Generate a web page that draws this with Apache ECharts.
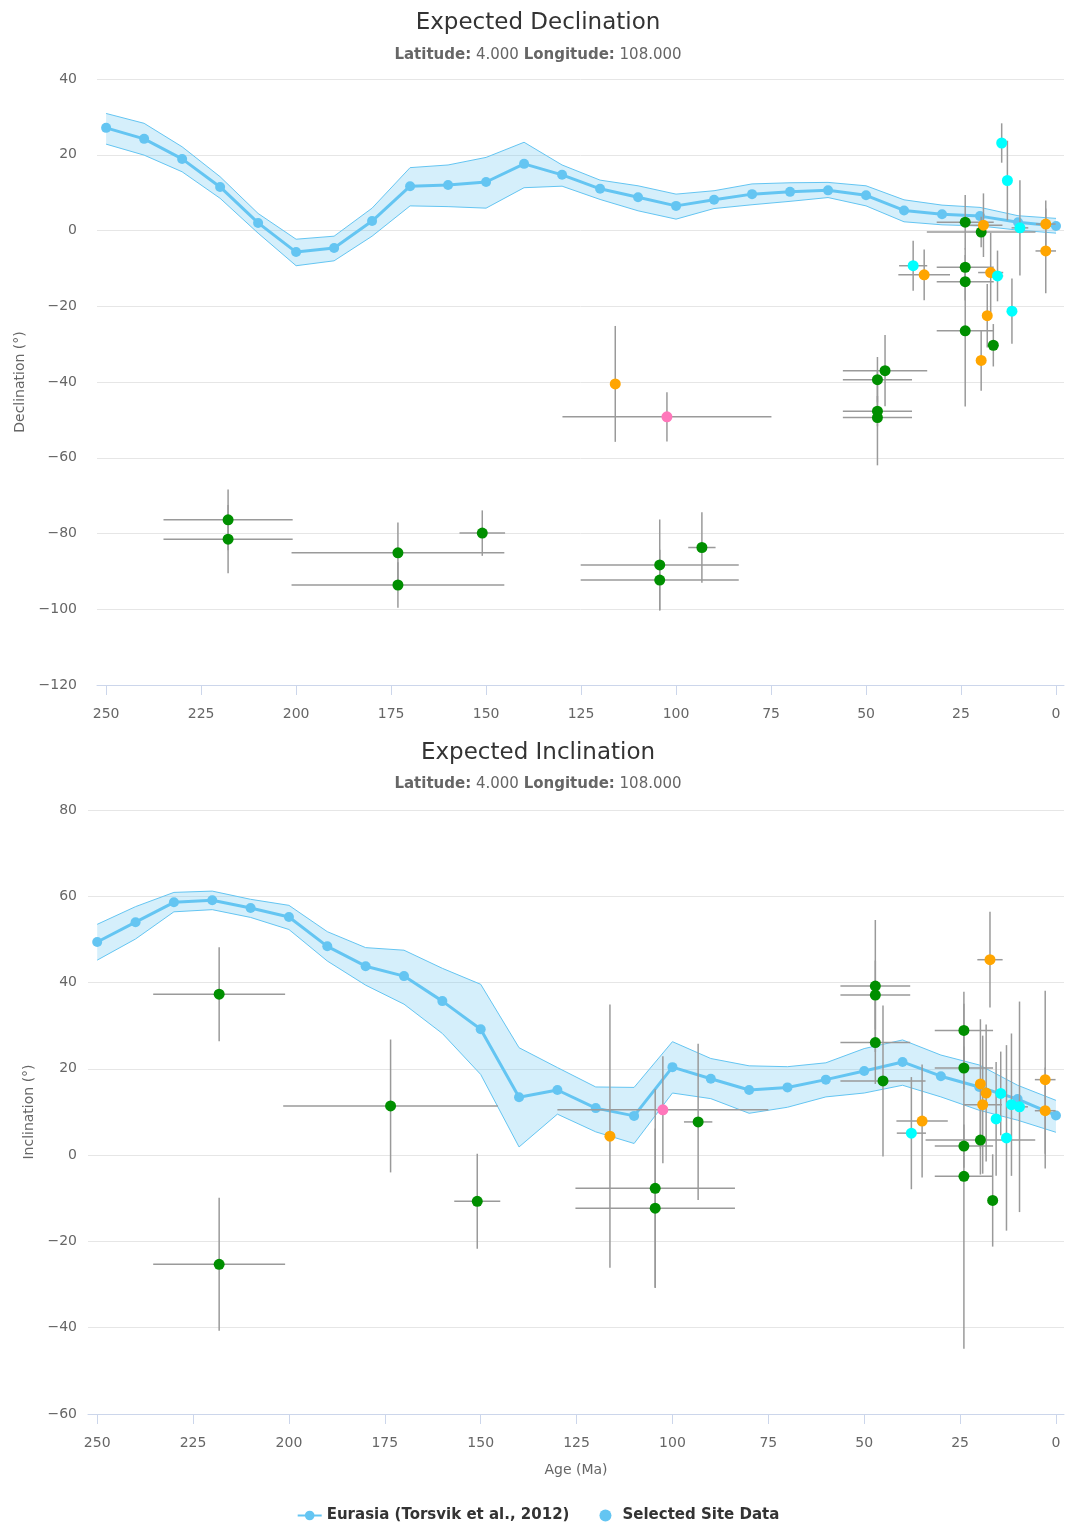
<!DOCTYPE html>
<html>
<head>
<meta charset="utf-8">
<script src="https://cdn.jsdelivr.net/npm/echarts@6/dist/echarts.min.js"></script>
<style>
html,body{margin:0;padding:0;background:#fff;}
#chart{width:1076px;height:1524px;}
</style>
</head>
<body>
<div id="chart"></div>
<script>
// ---------- Reference curve: Eurasia (Torsvik et al., 2012) ----------
const refAges  = [0,10,20,30,40,50,60,70,80,90,100,110,120,130,140,150,160,170,180,190,200,210,220,230,240,250];
const decMean  = [1.2,2.2,3.8,4.3,5.3,9.3,10.6,10.2,9.6,8.1,6.5,8.8,11.0,14.7,17.6,12.8,12.0,11.7,2.5,-4.6,-5.7,2.0,11.5,18.9,24.2,27.1];
const decUpper = [3.2,3.9,6.1,6.7,8.1,11.8,12.7,12.6,12.3,10.5,9.6,11.8,13.3,17.3,23.3,19.3,17.3,16.6,5.9,-1.5,-2.3,4.5,14.2,22.1,28.3,30.9];
const decLower = [-0.7,0.1,1.2,1.5,2.3,6.5,8.7,7.7,6.8,5.8,3.0,5.2,8.2,11.7,11.3,5.9,6.3,6.5,-1.5,-8.0,-9.3,-0.7,8.5,15.5,19.9,22.8];
const incMean  = [9.2,13.0,15.8,18.3,21.6,19.5,17.5,15.7,15.1,17.7,20.4,9.1,10.9,15.1,13.4,29.2,35.7,41.5,43.8,48.4,55.2,57.3,59.1,58.6,54.0,49.4];
const incUpper = [12.7,16.2,20.9,23.2,26.7,24.7,21.4,20.5,20.7,22.4,26.3,15.7,15.8,20.3,24.9,39.6,43.3,47.5,48.1,51.8,57.9,59.3,61.2,60.9,57.6,53.5];
const incLower = [5.3,8.1,10.4,13.5,16.2,14.4,13.5,11.1,9.7,13.1,14.4,2.7,5.4,9.5,1.9,18.7,28.2,35.0,39.4,45.0,52.3,55.1,56.9,56.4,50.1,45.2];

// ---------- Selected site data: declination ----------
const decSiteAge    = [217.9,217.9,173.2,173.2,151.0,116.0,102.4,104.3,104.3,93.2,47.0,45.0,47.0,47.0,37.6,34.7,23.9,23.9,23.9,23.9,19.7,19.1,17.2,15.4,18.1,16.5,19.7,14.3,12.8,9.5,11.6,2.7,2.7];
const decSiteAgeErr = [17,17,28,28,6,0,27.5,20.8,20.8,3.6,9.1,11.1,9.1,9.1,3.7,6.8,7.5,7.5,7.5,7.5,14.3,5,3.3,1.5,0,0,0,0,0,2.2,0,2.6,2.7];
const decSiteVal    = [-76.4,-81.5,-85.1,-93.6,-79.9,-40.5,-49.2,-88.3,-92.3,-83.7,-39.4,-37.0,-47.7,-49.4,-9.3,-11.7,2.2,-9.7,-13.5,-26.5,-0.4,1.4,-11.1,-12.0,-22.5,-30.3,-34.3,23.1,13.2,0.7,-21.3,1.7,-5.4];
const decSiteValErr = [8,9,8,6,6,15.3,6.5,12,8,9.3,6,9.4,4,12.6,6.6,6.7,7.2,5,5,20,4,8.4,10.5,6.7,8.4,5.6,8,5.2,10.5,12.6,8.6,6.2,11.2];
const decSiteGroup  = ['G','G','G','G','G','O','P','G','G','G','G','G','G','G','C','O','G','G','G','G','G','O','O','C','O','G','O','C','C','C','C','O','O'];

// ---------- Selected site data: inclination ----------
const incSiteAge    = [218.2,218.2,173.5,150.9,116.3,102.5,104.5,104.5,93.3,47.1,47.1,47.1,45.1,34.9,37.7,24.0,24.0,24.0,24.0,19.7,19.7,18.2,19.1,17.2,16.5,14.4,15.6,12.9,11.6,9.5,2.8,2.8];
const incSiteAgeErr = [17.2,17.2,28,6,0,27.5,20.8,20.8,3.7,9.1,9.1,9.1,11.1,6.7,3.8,7.6,7.6,7.6,7.6,14.3,0,0,5,3.3,0,0,0,0,0,2.2,2.7,2.7];
const incSiteVal    = [37.3,-25.3,11.4,-10.7,4.4,10.5,-7.7,-12.3,7.7,39.2,37.1,26.1,17.2,7.9,5.1,28.9,20.2,2.1,-4.9,3.5,16.5,14.4,11.7,45.3,-10.5,14.3,8.4,4.0,11.7,11.2,17.5,10.3];
const incSiteValErr = [10.9,15.4,15.4,11,30.5,12.4,23,18.5,18.1,15.3,8,9.6,17.5,13.1,13,9,5,5,40,8,15,15.9,16,11.1,10.7,9.7,13.2,21.5,16.5,24.4,20.6,10];
const incSiteGroup  = ['G','G','G','G','O','P','G','G','G','G','G','G','G','O','C','G','G','G','G','G','O','O','O','O','G','C','C','C','C','C','O','O'];

// ---------- Axis ticks ----------
const ageTicks = [0,25,50,75,100,125,150,175,200,225,250];

const palette = {G:'#008f00', O:'#ffa500', C:'#00ffff', P:'#ff77bb'};
const BLUE = '#64c5f2';
const FONT = 'DejaVu Sans';
const REF_NAME = 'Eurasia (Torsvik et al., 2012)';
const SITE_NAME = 'Selected Site Data';

function minusFmt(v){ return String(v).replace('-', '\u2212'); }

function lineSeries(gi, mean){
  return {
    type:'line', name:REF_NAME, xAxisIndex:gi, yAxisIndex:gi, z:3,
    data: refAges.map((a,i)=>[a, mean[i]]),
    symbol:'circle', symbolSize:10, showSymbol:true,
    lineStyle:{color:BLUE, width:3}, itemStyle:{color:BLUE, opacity:1},
    emphasis:{disabled:true}
  };
}
function bandSeries(gi, upper, lower){
  return {
    type:'custom', name:REF_NAME, xAxisIndex:gi, yAxisIndex:gi, z:2, silent:true,
    data: refAges.map((a,i)=>[a, upper[i], lower[i]]),
    encode:{x:0, y:[1,2]},
    renderItem: function(params, api){
      if (params.dataIndex !== 0) return null;
      const up = refAges.map((a,i)=>api.coord([a, upper[i]]));
      const lo = refAges.map((a,i)=>api.coord([a, lower[i]]));
      return {type:'group', children:[
        {type:'polygon', shape:{points: up.concat(lo.slice().reverse())}, style:{fill:'rgba(100,197,242,0.27)'}},
        {type:'polyline', shape:{points:up}, style:{stroke:BLUE, lineWidth:1, fill:null}},
        {type:'polyline', shape:{points:lo}, style:{stroke:BLUE, lineWidth:1, fill:null}}
      ]};
    }
  };
}
function scatterSeries(gi, ages, vals, groups){
  return {
    type:'scatter', name:SITE_NAME, xAxisIndex:gi, yAxisIndex:gi, z:5,
    symbol:'circle', symbolSize:11, itemStyle:{color:BLUE, opacity:1},
    emphasis:{disabled:true},
    data: ages.map((a,i)=>({value:[a, vals[i]], itemStyle:{color:palette[groups[i]], opacity:1}}))
  };
}
function errSeries(gi, ages, ageErr, vals, valErr){
  return {
    type:'custom', name:SITE_NAME, xAxisIndex:gi, yAxisIndex:gi, z:4, silent:true,
    data: ages.map((a,i)=>[a, vals[i], ageErr[i], valErr[i]]),
    encode:{x:0, y:1},
    renderItem: function(params, api){
      const a=api.value(0), v=api.value(1), ae=api.value(2), ve=api.value(3);
      const ch=[];
      const st={stroke:'#9a9a9a', lineWidth:1.5};
      if (ae>0){
        const p1=api.coord([a-ae,v]), p2=api.coord([a+ae,v]);
        ch.push({type:'line', shape:{x1:p1[0],y1:p1[1],x2:p2[0],y2:p2[1]}, style:st});
      }
      if (ve>0){
        const p1=api.coord([a,v-ve]), p2=api.coord([a,v+ve]);
        ch.push({type:'line', shape:{x1:p1[0],y1:p1[1],x2:p2[0],y2:p2[1]}, style:st});
      }
      return {type:'group', children:ch};
    }
  };
}
function xAxis(gi, showName){
  return {
    type:'value', gridIndex:gi, inverse:true, min:-2.1, max:252.4,
    axisLine:{show:true, onZero:false, lineStyle:{color:'#ccd6eb', width:1}},
    axisTick:{show:true, length:10, customValues:ageTicks, lineStyle:{color:'#ccd6eb', width:1}},
    axisLabel:{customValues:ageTicks, color:'#666', fontSize:14, fontFamily:FONT, margin:22},
    splitLine:{show:false},
    name: showName ? 'Age (Ma)' : '', nameLocation:'middle', nameGap:49,
    nameTextStyle:{color:'#666', fontSize:14, fontFamily:FONT}
  };
}
function yAxis(gi, min, max, name, labelMargin, nameGap){
  return {
    type:'value', gridIndex:gi, min:min, max:max, interval:20,
    axisLine:{show:false}, axisTick:{show:false},
    splitLine:{show:true, lineStyle:{color:'#e6e6e6', width:1}},
    axisLabel:{color:'#666', fontSize:14, fontFamily:FONT, margin:labelMargin, formatter:minusFmt},
    name:name, nameLocation:'middle', nameGap:nameGap,
    nameTextStyle:{color:'#666', fontSize:14, fontFamily:FONT}
  };
}
function title(text, top, gap){
  return {
    text:text,
    subtext:'{b|Latitude:} 4.000 {b|Longitude:} 108.000',
    left:'center', top:top, itemGap:gap,
    textStyle:{fontSize:23, color:'#333', fontWeight:'normal', fontFamily:FONT},
    subtextStyle:{fontSize:15, color:'#666', fontFamily:FONT, rich:{b:{fontSize:15, color:'#666', fontWeight:'bold', fontFamily:FONT}}}
  };
}

const chart = echarts.init(document.getElementById('chart'), null, {renderer:'canvas'});
chart.setOption({
  animation:false,
  backgroundColor:'#fff',
  title:[title('Expected Declination', 7, 13), title('Expected Inclination', 737, 12)],
  legend:{
    data:[REF_NAME, SITE_NAME], top:1503, left:'center', itemGap:30, itemWidth:24, itemHeight:12,
    textStyle:{fontSize:15, fontWeight:'bold', color:'#333', fontFamily:FONT}
  },
  grid:[
    {left:97, right:12, top:79, height:606},
    {left:88, right:12, top:810, height:604}
  ],
  xAxis:[xAxis(0,false), xAxis(1,true)],
  yAxis:[
    yAxis(0,-120,40,'Declination (°)',20,69),
    yAxis(1,-60,80,'Inclination (°)',11,50)
  ],
  series:[
    lineSeries(0, decMean),
    scatterSeries(0, decSiteAge, decSiteVal, decSiteGroup),
    bandSeries(0, decUpper, decLower),
    errSeries(0, decSiteAge, decSiteAgeErr, decSiteVal, decSiteValErr),
    lineSeries(1, incMean),
    scatterSeries(1, incSiteAge, incSiteVal, incSiteGroup),
    bandSeries(1, incUpper, incLower),
    errSeries(1, incSiteAge, incSiteAgeErr, incSiteVal, incSiteValErr)
  ]
});
</script>
</body>
</html>
